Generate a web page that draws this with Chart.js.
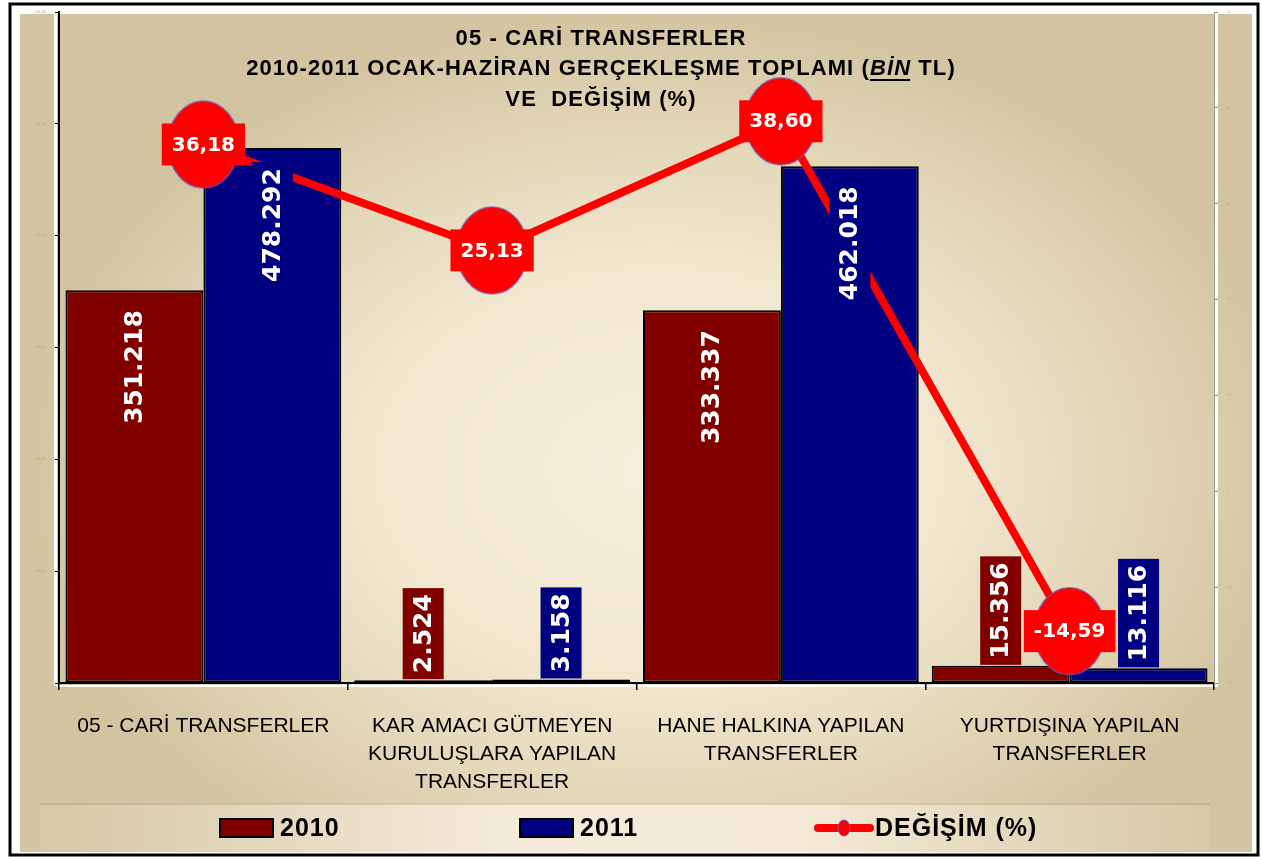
<!DOCTYPE html>
<html lang="tr">
<head>
<meta charset="utf-8">
<title>05 - CARİ TRANSFERLER</title>
<script src="https://cdn.jsdelivr.net/npm/chart.js@4.4.1/dist/chart.umd.min.js"></script>
<style>
  html, body { margin: 0; padding: 0; background: #fff; overflow: hidden; }
  canvas { display: block; }
</style>
</head>
<body>
<canvas id="cariChart" width="1262" height="857"></canvas>
<script>
// Kategoriler (x ekseni etiketleri)
var kategoriler = [
  ['05 - CARİ TRANSFERLER'],
  ['KAR AMACI GÜTMEYEN', 'KURULUŞLARA YAPILAN', 'TRANSFERLER'],
  ['HANE HALKINA YAPILAN', 'TRANSFERLER'],
  ['YURTDIŞINA YAPILAN', 'TRANSFERLER']
];
var seriAdlari = ['2010', '2011', 'DEĞİŞİM (%)'];
var veri2010 = [351218, 2524, 333337, 15356];
var veri2011 = [478292, 3158, 462018, 13116];
var degisim = [36.18, 25.13, 38.60, -14.59];
var solTikler = [0, 100000, 200000, 300000, 400000, 500000, 600000];
var sagTikler = [-20, -10, 0, 10, 20, 30, 40, 50];
var baslik = ['05 - CARİ TRANSFERLER', '2010-2011 OCAK-HAZİRAN GERÇEKLEŞME TOPLAMI (', 'BİN', ' TL)', 'VE  DEĞİŞİM (%)'];

var WIDE = '"DejaVu Sans", Verdana, sans-serif';
var SANS = '"Liberation Sans", Arial, sans-serif';

function binlik(n) {
  return String(n).replace(/\B(?=(\d{3})+(?!\d))/g, '.');
}
function virgul(v) {
  return v.toFixed(2).replace('.', ',');
}

// Kirmizi oval isaret (noktalar icin)
var isaret = document.createElement('canvas');
isaret.width = 74; isaret.height = 90;
var ic = isaret.getContext('2d');
ic.beginPath();
ic.ellipse(37, 45, 35.5, 43.5, 0, 0, Math.PI * 2);
ic.fillStyle = '#ff0000';
ic.fill();
ic.lineWidth = 1.2;
ic.strokeStyle = '#6a5ab8';
ic.stroke();

// Arka plan, cerceve ve lejant seridi
var arkaPlan = {
  id: 'arkaPlan',
  beforeDraw: function(chart) {
    var ctx = chart.ctx;
    ctx.save();
    ctx.fillStyle = '#fff';
    ctx.fillRect(0, 0, chart.width, chart.height);
    ctx.lineWidth = 3;
    ctx.strokeStyle = '#000';
    ctx.strokeRect(10, 4, 1248, 851);

    // ana panel
    ctx.save();
    ctx.beginPath();
    ctx.rect(20, 14, 1232, 838);
    ctx.clip();
    ctx.translate(660, 470);
    ctx.scale(1, 0.72);
    var g = ctx.createRadialGradient(0, 0, 0, 0, 0, 640);
    g.addColorStop(0, '#f7efdc');
    g.addColorStop(0.45, '#f1e7cf');
    g.addColorStop(0.8, '#dfd2b3');
    g.addColorStop(1, '#d2c4a0');
    ctx.fillStyle = g;
    ctx.fillRect(-700, -700, 1400, 1400);
    ctx.restore();

    // beyaz ayirma cizgileri
    var a = chart.chartArea;
    ctx.fillStyle = '#fff';
    ctx.fillRect(a.left - 5, 14, 3, a.bottom - 14 + 3);
    ctx.fillRect(a.right + 1, 14, 3, a.bottom - 14 + 4);
    ctx.fillRect(a.left - 2, a.bottom + 2, a.right - a.left + 5, 2);

    // lejant seridi
    var lg = ctx.createLinearGradient(40, 0, 1210, 0);
    lg.addColorStop(0, '#d5c8a5');
    lg.addColorStop(0.4, '#f4eada');
    lg.addColorStop(0.65, '#f3e9d6');
    lg.addColorStop(1, '#d6c9a7');
    ctx.fillStyle = lg;
    ctx.fillRect(40, 803, 1170, 49);
    ctx.fillStyle = 'rgba(140,120,80,0.25)';
    ctx.fillRect(40, 803, 1170, 2);
    ctx.restore();
  }
};

// Etiketler: cubuk degerleri ve degisim kutulari
var etiketler = {
  id: 'etiketler',
  afterDatasetsDraw: function(chart) {
    var ctx = chart.ctx;
    chart.data.datasets.forEach(function(ds, i) {
      if (ds.type !== 'bar') return;
      var meta = chart.getDatasetMeta(i);
      meta.data.forEach(function(bar, j) {
        var txt = binlik(ds.data[j]);
        ctx.save();
        ctx.font = 'bold 25px ' + WIDE;
        var tw = ctx.measureText(txt).width;
        var boy = tw + 12, kalin = 41;
        var h = bar.base - bar.y;
        // sigmayan etiket cubugun ustune oturur
        var cy = h > boy + 30 ? bar.y + 14 + boy / 2 : bar.y - 1 - boy / 2;
        ctx.translate(bar.x, cy);
        ctx.rotate(-Math.PI / 2);
        ctx.fillStyle = ds.backgroundColor;
        ctx.fillRect(-boy / 2, -kalin / 2, boy, kalin);
        ctx.fillStyle = '#fff';
        ctx.textAlign = 'center';
        ctx.textBaseline = 'middle';
        ctx.fillText(txt, 0, 1);
        ctx.restore();
      });
    });
    chart.data.datasets.forEach(function(ds, i) {
      if (ds.type !== 'line') return;
      var meta = chart.getDatasetMeta(i);
      meta.data.forEach(function(pt, j) {
        var txt = virgul(ds.data[j]);
        ctx.save();
        ctx.font = 'bold 20px ' + WIDE;
        var tw = ctx.measureText(txt).width;
        var w = tw + 20, h = 42;
        ctx.fillStyle = '#ff0000';
        ctx.fillRect(pt.x - w / 2, pt.y - h / 2, w, h);
        ctx.fillStyle = '#fff';
        ctx.textAlign = 'center';
        ctx.textBaseline = 'middle';
        ctx.fillText(txt, pt.x, pt.y + 1);
        ctx.restore();
      });
    });
  },
  afterDraw: function(chart) {
    var ctx = chart.ctx;
    ctx.save();
    ctx.fillStyle = '#000';
    ctx.textBaseline = 'middle';
    var cx = 601;
    // baslik (3 satir)
    ctx.letterSpacing = '1.1px';
    var f1 = 'bold 22px ' + SANS, f2 = 'italic bold 22px ' + SANS;
    ctx.font = f1;
    ctx.textAlign = 'center';
    ctx.fillText(baslik[0], cx, 39);
    // ikinci satir: BİN italik ve alti cizili
    ctx.textAlign = 'left';
    var w1 = ctx.measureText(baslik[1]).width, w3 = ctx.measureText(baslik[3]).width;
    ctx.font = f2;
    var w2 = ctx.measureText(baslik[2]).width;
    var x0 = cx - (w1 + w2 + w3) / 2;
    ctx.font = f1; ctx.fillText(baslik[1], x0, 69);
    ctx.font = f2; ctx.fillText(baslik[2], x0 + w1, 69);
    ctx.fillRect(x0 + w1, 79, w2 - 1, 2);
    ctx.font = f1; ctx.fillText(baslik[3], x0 + w1 + w2, 69);
    ctx.textAlign = 'center';
    ctx.fillText(baslik[4], cx, 100);

    // lejant
    var ly = 828;
    var ds = chart.data.datasets;
    ctx.letterSpacing = '1px';
    ctx.font = 'bold 25px ' + SANS;
    ctx.textAlign = 'left';
    [[220, ds[1]], [520, ds[2]]].forEach(function(p) {
      ctx.fillStyle = p[1].backgroundColor;
      ctx.fillRect(p[0], ly - 9, 53, 18);
      ctx.lineWidth = 2;
      ctx.strokeStyle = '#000';
      ctx.strokeRect(p[0], ly - 9, 53, 18);
      ctx.fillStyle = '#000';
      ctx.fillText(p[1].label, p[0] + 60, ly + 1);
    });
    ctx.strokeStyle = ds[0].borderColor;
    ctx.lineWidth = 8;
    ctx.lineCap = 'round';
    ctx.beginPath();
    ctx.moveTo(818, ly);
    ctx.lineTo(870, ly);
    ctx.stroke();
    ctx.beginPath();
    ctx.ellipse(844, ly, 6, 8, 0, 0, Math.PI * 2);
    ctx.fillStyle = '#ff0000';
    ctx.fill();
    ctx.lineWidth = 1;
    ctx.strokeStyle = '#6a5ab8';
    ctx.stroke();
    ctx.fillStyle = '#000';
    ctx.fillText(ds[0].label, 875, ly + 1);
    ctx.restore();
  }
};

var ctx = document.getElementById('cariChart').getContext('2d');
var cariChart = new Chart(ctx, {
  data: {
    labels: kategoriler,
    datasets: [{
      type: 'line',
      label: seriAdlari[2],
      data: degisim,
      yAxisID: 'y1',
      order: 0,
      borderColor: '#ff0000',
      borderWidth: 8,
      tension: 0,
      pointStyle: isaret,
      pointRadius: 38,
      pointHoverRadius: 38
    }, {
      type: 'bar',
      label: seriAdlari[0],
      data: veri2010,
      yAxisID: 'y',
      order: 1,
      backgroundColor: '#800000',
      borderColor: '#000',
      borderWidth: 2,
      borderSkipped: false,
      barPercentage: 1,
      categoryPercentage: 0.955
    }, {
      type: 'bar',
      label: seriAdlari[1],
      data: veri2011,
      yAxisID: 'y',
      order: 1,
      backgroundColor: '#000080',
      borderColor: '#000',
      borderWidth: 2,
      borderSkipped: false,
      barPercentage: 1,
      categoryPercentage: 0.955
    }]
  },
  options: {
    responsive: false,
    animation: false,
    events: [],
    layout: { autoPadding: false, padding: { top: 12, left: 0, right: 0, bottom: 0 } },
    plugins: {
      legend: { display: false },
      title: { display: false },
      tooltip: { enabled: false }
    },
    scales: {
      x: {
        offset: true,
        grid: { offset: true, drawOnChartArea: false, color: '#000', tickLength: 7, lineWidth: 1.5 },
        border: { color: '#000', width: 2 },
        ticks: {
          color: '#000',
          padding: 22,
          maxRotation: 0,
          autoSkip: false,
          font: { family: SANS, size: 21, lineHeight: 1.333 }
        },
        afterFit: function(s) { s.height = 174; }
      },
      y: {
        position: 'left',
        min: solTikler[0],
        max: solTikler[solTikler.length - 1],
        afterBuildTicks: function(s) { s.ticks = solTikler.map(function(v) { return { value: v }; }); },
        grid: { drawOnChartArea: false, color: '#000', tickLength: 4 },
        border: { color: '#000', width: 2 },
        ticks: { color: '#aaa', padding: 9, font: { size: 3 } },
        afterFit: function(s) { s.width = 59; }
      },
      y1: {
        position: 'right',
        min: sagTikler[0],
        max: sagTikler[sagTikler.length - 1],
        afterBuildTicks: function(s) { s.ticks = sagTikler.map(function(v) { return { value: v }; }); },
        grid: { drawOnChartArea: false, color: '#888', tickLength: 4 },
        border: { color: '#999', width: 1 },
        ticks: { color: '#aaa', padding: 9, font: { size: 3 } },
        afterFit: function(s) { s.width = 48; }
      }
    }
  },
  plugins: [arkaPlan, etiketler]
});
</script>
</body>
</html>
